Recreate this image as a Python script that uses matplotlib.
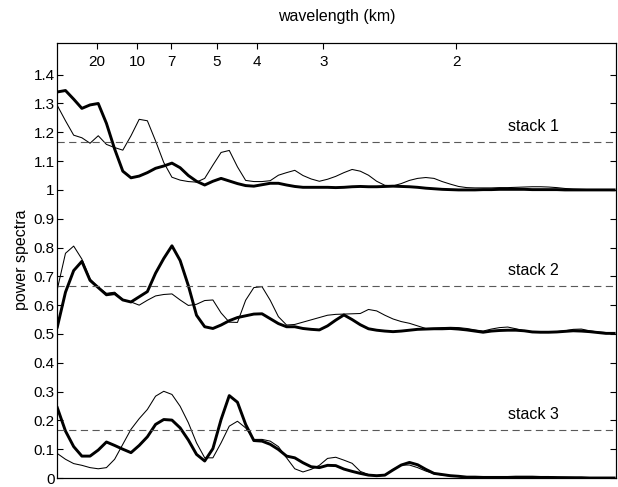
import numpy as np
import matplotlib
matplotlib.use("Agg")
import matplotlib.pyplot as plt
from matplotlib.ticker import FormatStrFormatter

plt.rcParams['font.family'] = ['Liberation Sans', 'DejaVu Sans']

# wavenumber grid (1/km)
n_points = 69
dk = 0.01026
wavenumber = np.arange(n_points) * dk

# wavelength labels on the top axis (km)
wavelength_ticks = [20, 10, 7, 5, 4, 3, 2]

# vertical offsets of the three stacks and their dashed reference levels
offsets = [1.0, 0.5, 0.0]
ref_levels = [1.1667, 0.6667, 0.1667]
stack_names = ["stack 1", "stack 2", "stack 3"]

# spectra (offset removed), thick and thin curve for each stack
s1_thick = [0.340, 0.345, 0.315, 0.283, 0.295, 0.300, 0.231, 0.142, 0.065, 0.042,
            0.048, 0.060, 0.075, 0.083, 0.093, 0.077, 0.050, 0.030, 0.017, 0.030,
            0.040, 0.031, 0.022, 0.015, 0.013, 0.018, 0.023, 0.023, 0.017, 0.012,
            0.009, 0.009, 0.009, 0.009, 0.008, 0.009, 0.011, 0.012, 0.011, 0.011,
            0.012, 0.013, 0.012, 0.011, 0.009, 0.006, 0.004, 0.002, 0.001, 0.000,
            0.000, 0.000, 0.001, 0.001, 0.002, 0.002, 0.002, 0.002, 0.001, 0.001,
            0.001, 0.001, 0.000, 0.000, 0.000, 0.000, 0.000, 0.000, 0.000]
s1_thin = [0.293, 0.240, 0.190, 0.181, 0.162, 0.188, 0.158, 0.147, 0.138, 0.188,
           0.245, 0.240, 0.170, 0.095, 0.044, 0.034, 0.029, 0.027, 0.040, 0.086,
           0.130, 0.137, 0.080, 0.033, 0.029, 0.029, 0.032, 0.051, 0.060, 0.068,
           0.050, 0.038, 0.030, 0.037, 0.047, 0.060, 0.071, 0.065, 0.051, 0.030,
           0.016, 0.014, 0.022, 0.033, 0.040, 0.043, 0.040, 0.029, 0.020, 0.012,
           0.008, 0.007, 0.007, 0.007, 0.008, 0.008, 0.009, 0.010, 0.011, 0.011,
           0.010, 0.008, 0.005, 0.003, 0.002, 0.001, 0.001, 0.000, 0.000]
s2_thick = [0.024, 0.145, 0.220, 0.252, 0.186, 0.161, 0.136, 0.140, 0.118, 0.111,
            0.129, 0.147, 0.211, 0.262, 0.306, 0.255, 0.168, 0.065, 0.025, 0.019,
            0.031, 0.046, 0.057, 0.063, 0.069, 0.070, 0.053, 0.036, 0.025, 0.025,
            0.019, 0.016, 0.014, 0.028, 0.048, 0.066, 0.050, 0.032, 0.018, 0.013,
            0.010, 0.008, 0.010, 0.013, 0.016, 0.017, 0.018, 0.018, 0.019, 0.017,
            0.014, 0.010, 0.006, 0.010, 0.012, 0.013, 0.013, 0.011, 0.007, 0.006,
            0.006, 0.007, 0.009, 0.011, 0.010, 0.008, 0.005, 0.002, 0.002]
s2_thin = [0.155, 0.280, 0.305, 0.260, 0.191, 0.162, 0.141, 0.145, 0.119, 0.111,
           0.100, 0.117, 0.132, 0.137, 0.139, 0.118, 0.099, 0.103, 0.116, 0.118,
           0.073, 0.041, 0.040, 0.117, 0.161, 0.164, 0.117, 0.060, 0.031, 0.033,
           0.041, 0.049, 0.057, 0.065, 0.068, 0.069, 0.070, 0.071, 0.085, 0.080,
           0.065, 0.052, 0.043, 0.037, 0.028, 0.019, 0.020, 0.022, 0.023, 0.022,
           0.019, 0.014, 0.010, 0.017, 0.022, 0.024, 0.018, 0.011, 0.007, 0.007,
           0.007, 0.008, 0.011, 0.016, 0.017, 0.011, 0.007, 0.005, 0.002]
s3_thick = [0.244, 0.163, 0.109, 0.076, 0.076, 0.097, 0.125, 0.113, 0.100, 0.088,
            0.113, 0.143, 0.186, 0.203, 0.201, 0.174, 0.132, 0.082, 0.059, 0.102,
            0.203, 0.286, 0.263, 0.186, 0.130, 0.128, 0.117, 0.099, 0.076, 0.070,
            0.053, 0.039, 0.036, 0.044, 0.043, 0.031, 0.023, 0.016, 0.010, 0.008,
            0.010, 0.028, 0.045, 0.054, 0.046, 0.030, 0.016, 0.012, 0.008, 0.006,
            0.003, 0.003, 0.002, 0.002, 0.002, 0.002, 0.003, 0.003, 0.003, 0.002,
            0.002, 0.001, 0.001, 0.001, 0.001, 0.000, 0.000, 0.000, 0.000]
s3_thin = [0.085, 0.065, 0.050, 0.044, 0.036, 0.032, 0.036, 0.065, 0.117, 0.169,
           0.206, 0.238, 0.284, 0.301, 0.290, 0.249, 0.192, 0.122, 0.070, 0.070,
           0.122, 0.180, 0.197, 0.174, 0.134, 0.134, 0.128, 0.109, 0.070, 0.032,
           0.021, 0.030, 0.044, 0.068, 0.072, 0.062, 0.051, 0.023, 0.012, 0.007,
           0.010, 0.030, 0.045, 0.045, 0.036, 0.024, 0.015, 0.010, 0.007, 0.005,
           0.005, 0.005, 0.005, 0.005, 0.005, 0.005, 0.005, 0.005, 0.005, 0.005,
           0.005, 0.004, 0.003, 0.002, 0.001, 0.001, 0.000, 0.000, 0.000]

thick_series = [s1_thick, s2_thick, s3_thick]
thin_series = [s1_thin, s2_thin, s3_thin]

W, H = 618, 487
fig = plt.figure(figsize=(W / 100, H / 100), dpi=100)
left, right, top, bottom = 57.3, 616.0, 42.7, 478.0
ax = fig.add_axes([left / W, 1 - bottom / H, (right - left) / W, (bottom - top) / H])

for off, ref, name, thick, thin in zip(offsets, ref_levels, stack_names,
                                       thick_series, thin_series):
    ax.plot(wavenumber, np.array(thin) + off, color='black', lw=0.75)
    ax.plot(wavenumber, np.array(thick) + off, color='black', lw=2.1)
    ax.axhline(ref, color='0.35', lw=0.8, linestyle=(0, (6.5, 4.0)))
    ax.text(0.596, ref + 0.055, name, ha='center', va='center', fontsize=11.5)

ax.set_xlim(0, 0.7)
ax.set_ylim(0, 1.511)
ax.set_yticks(np.arange(0, 1.45, 0.1))
ax.yaxis.set_major_formatter(FormatStrFormatter('%g'))

ax2 = ax.twiny()
ax2.set_xlim(ax.get_xlim())
ax2.set_xticks([1.0 / w for w in wavelength_ticks])
ax2.set_xticklabels([str(w) for w in wavelength_ticks])
ax2.tick_params(axis='x', direction='in', length=4, width=0.8, labelsize=11,
                pad=-19, bottom=False, labelbottom=False)

ax.tick_params(axis='y', direction='in', length=4, width=0.8, labelsize=11,
               right=True, pad=2)
ax.tick_params(axis='x', bottom=False, top=False, labelbottom=False,
               labeltop=False)
for sp in list(ax.spines.values()) + list(ax2.spines.values()):
    sp.set_linewidth(0.8)

fig.text(337 / W, 1 - 17 / H, 'wavelength (km)', ha='center', va='center',
         fontsize=11.5)
fig.text(22 / W, 1 - 260 / H, 'power spectra', ha='center', va='center',
         rotation=90, fontsize=11.5)

fig.savefig('out.png', dpi=100)
